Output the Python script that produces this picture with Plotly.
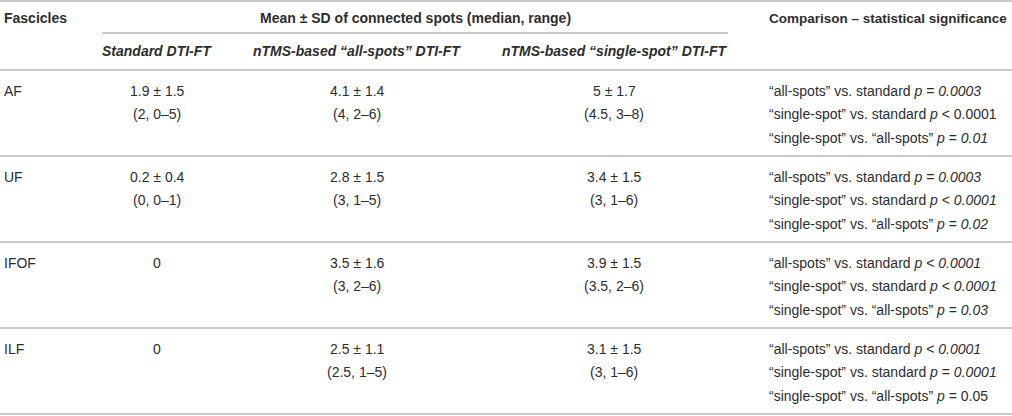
import plotly.graph_objects as go

# table content
fascicles = ["AF", "UF", "IFOF", "ILF"]
standard = [("1.9 ± 1.5", "(2, 0–5)"), ("0.2 ± 0.4", "(0, 0–1)"), ("0", ""), ("0", "")]
all_spots = [("4.1 ± 1.4", "(4, 2–6)"), ("2.8 ± 1.5", "(3, 1–5)"),
             ("3.5 ± 1.6", "(3, 2–6)"), ("2.5 ± 1.1", "(2.5, 1–5)")]
single_spot = [("5 ± 1.7", "(4.5, 3–8)"), ("3.4 ± 1.5", "(3, 1–6)"),
               ("3.9 ± 1.5", "(3.5, 2–6)"), ("3.1 ± 1.5", "(3, 1–6)")]

comp_labels = ["“all-spots” vs. standard", "“single-spot” vs. standard", "“single-spot” vs. “all-spots”"]
comp_ops = [["=", "<", "="], ["=", "<", "="], ["<", "<", "="], ["<", "=", "="]]
comp_p = [["0.0003", "0.0001", "0.01"], ["0.0003", "0.0001", "0.02"],
          ["0.0001", "0.0001", "0.03"], ["0.0001", "0.0001", "0.05"]]
comp_italic = [[True, False, True], [True, True, True], [True, True, True], [True, True, False]]

header_main = ["Fascicles", "Mean ± SD of connected spots (median, range)", "Comparison – statistical significance"]
header_sub = ["Standard DTI-FT", "nTMS-based “all-spots” DTI-FT", "nTMS-based “single-spot” DTI-FT"]

W, H = 1012, 416
TXT = "#2d2d2d"
RULE = "#b8b8b8"
FONT = "Liberation Sans, Arial, sans-serif"

col_x = [157, 357, 614]      # centres of the three value columns
comp_x = 767
head_bottom = 70
row_h = 86
line_gap = 23.5

fig = go.Figure()
fig.add_trace(go.Scatter(x=[0, W], y=[0, H], mode="markers", marker=dict(opacity=0), hoverinfo="skip"))

ann = []
def txt(x, y, s, anchor="center", bold=False, size=14):
    if bold:
        s = "<b>" + s + "</b>"
    ann.append(dict(x=x, y=y, text=s, xanchor=anchor, yanchor="middle", showarrow=False,
                    font=dict(family=FONT, size=size, color=TXT)))

# header
txt(2, 18, header_main[0], "left", True)
txt(415, 18, header_main[1], "center", True)
txt(comp_x, 18, header_main[2], "left", True, size=13.5)
for cx, s in zip(col_x, header_sub):
    txt(cx, 51, "<i>" + s + "</i>", "center", True)

# rows
for i, name in enumerate(fascicles):
    top = head_bottom + row_h * i
    y0 = top + 20.5
    txt(2, y0, name, "left")
    for cx, col in zip(col_x, [standard, all_spots, single_spot]):
        for k, s in enumerate(col[i]):
            if s:
                txt(cx, y0 + line_gap * k, s)
    for k in range(3):
        pv = comp_p[i][k]
        if comp_italic[i][k]:
            pv = "<i>" + pv + "</i>"
        txt(comp_x, y0 + line_gap * k, comp_labels[k] + " <i>p</i> " + comp_ops[i][k] + " " + pv, "left")

shapes = [dict(type="line", x0=0, x1=W, y0=1, y1=1, line=dict(color=RULE, width=1.5)),
          dict(type="line", x0=102, x1=728, y0=33, y1=33, line=dict(color=RULE, width=1.5)),
          dict(type="line", x0=0, x1=W, y0=head_bottom, y1=head_bottom, line=dict(color=RULE, width=1.5))]
for i in range(len(fascicles)):
    yl = head_bottom + row_h * (i + 1)
    shapes.append(dict(type="line", x0=0, x1=W, y0=yl, y1=yl, line=dict(color=RULE, width=1.5)))

fig.update_layout(width=W, height=H, margin=dict(l=0, r=0, t=0, b=0),
                  paper_bgcolor="white", plot_bgcolor="white", showlegend=False,
                  annotations=ann, shapes=shapes)
fig.update_xaxes(range=[0, W], visible=False, fixedrange=True)
fig.update_yaxes(range=[H, 0], visible=False, fixedrange=True)
fig.write_html("out.html", config={"displayModeBar": False},
               post_script="document.body.style.margin='0';document.body.style.overflow='hidden';")
